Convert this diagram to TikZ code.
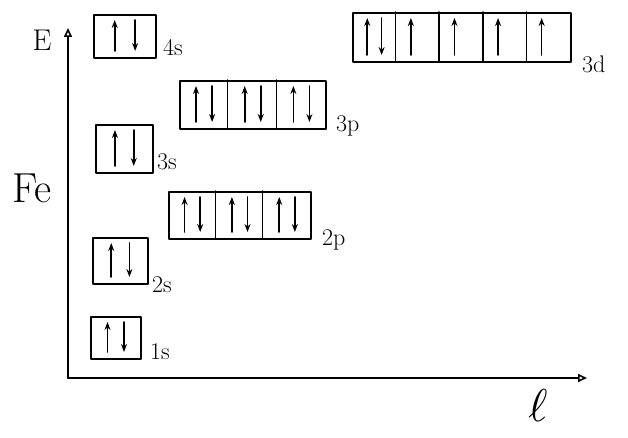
\documentclass[tikz,border=0pt]{standalone}
\usetikzlibrary{arrows.meta}
\begin{document}
\begin{tikzpicture}[x=1pt, y=-1pt, line cap=round, line join=round,
  shell/.style={draw, line width=1.6pt, rectangle, inner sep=0pt, anchor=north west},
  wall/.style={line width=1.6pt},
  spin/.style={line width=1.6pt, -{Stealth[length=8pt,width=6pt]}},
  axis/.style={line width=1.6pt, -{Triangle[open,length=9pt,width=8pt]}},
  sublabel/.style={font=\fontsize{24}{24}\selectfont, anchor=west, inner sep=0pt},
  biglabel/.style={inner sep=0pt}]
\useasboundingbox (0,0) rectangle (628,438);

% one subshell: name, left x, top y, width, height, cells, occupation list (2 = pair, 1 = single up)
\newcommand\shellbox[7]{%
  \node[shell, minimum width=#4pt, minimum height=#5pt] (#1) at (#2,#3) {};
  \pgfmathsetmacro\cw{#4/#6}
  \foreach \s [count=\i] in {#7}{
    \pgfmathsetmacro\xl{#2+(\i-1)*\cw}
    \ifnum\i>1 \draw[wall] (\xl,#3) -- (\xl,#3+#5);\fi
    \draw[spin] (\xl+0.35*\cw,#3+#5-6) -- (\xl+0.35*\cw,#3+6);
    \ifnum\s=2 \draw[spin] (\xl+0.68*\cw,#3+6) -- (\xl+0.68*\cw,#3+#5-6);\fi
  }
}

% axes
\coordinate (O) at (68,378);
\coordinate (Etip) at (68,28);
\coordinate (Ltip) at (587,378);
\draw[axis] (O) -- (Etip);
\draw[axis] (O) -- (Ltip);
\node[biglabel, font=\fontsize{30}{30}\selectfont] (E) at (42,40) {E};
\node[biglabel, font=\fontsize{42}{42}\selectfont] (Fe) at (32,188) {Fe};
\node[biglabel] (ell) at (538,406) {\scalebox{4.6}{$\ell$}};

% subshells
\shellbox{s1}{90}{316}{50}{42}{1}{2}
\shellbox{s2}{92}{237}{55}{46}{1}{2}
\shellbox{p2}{168}{191}{142}{47}{3}{2,2,2}
\shellbox{s3}{95}{124}{57}{48}{1}{2}
\shellbox{p3}{179}{80}{146}{48}{3}{2,2,2}
\shellbox{s4}{93}{14}{62}{43}{1}{2}
\shellbox{d3}{352}{12}{218}{49}{5}{2,1,1,1,1}

% labels
\node[sublabel] (l1s) at (150,352) {1s};
\node[sublabel] (l2s) at (152,285) {2s};
\node[sublabel] (l2p) at (322,240) {2p};
\node[sublabel] (l3s) at (157,162) {3s};
\node[sublabel] (l3p) at (336,126) {3p};
\node[sublabel] (l4s) at (163,48) {4s};
\node[sublabel] (l3d) at (582,64) {3d};
\end{tikzpicture}
\end{document}
